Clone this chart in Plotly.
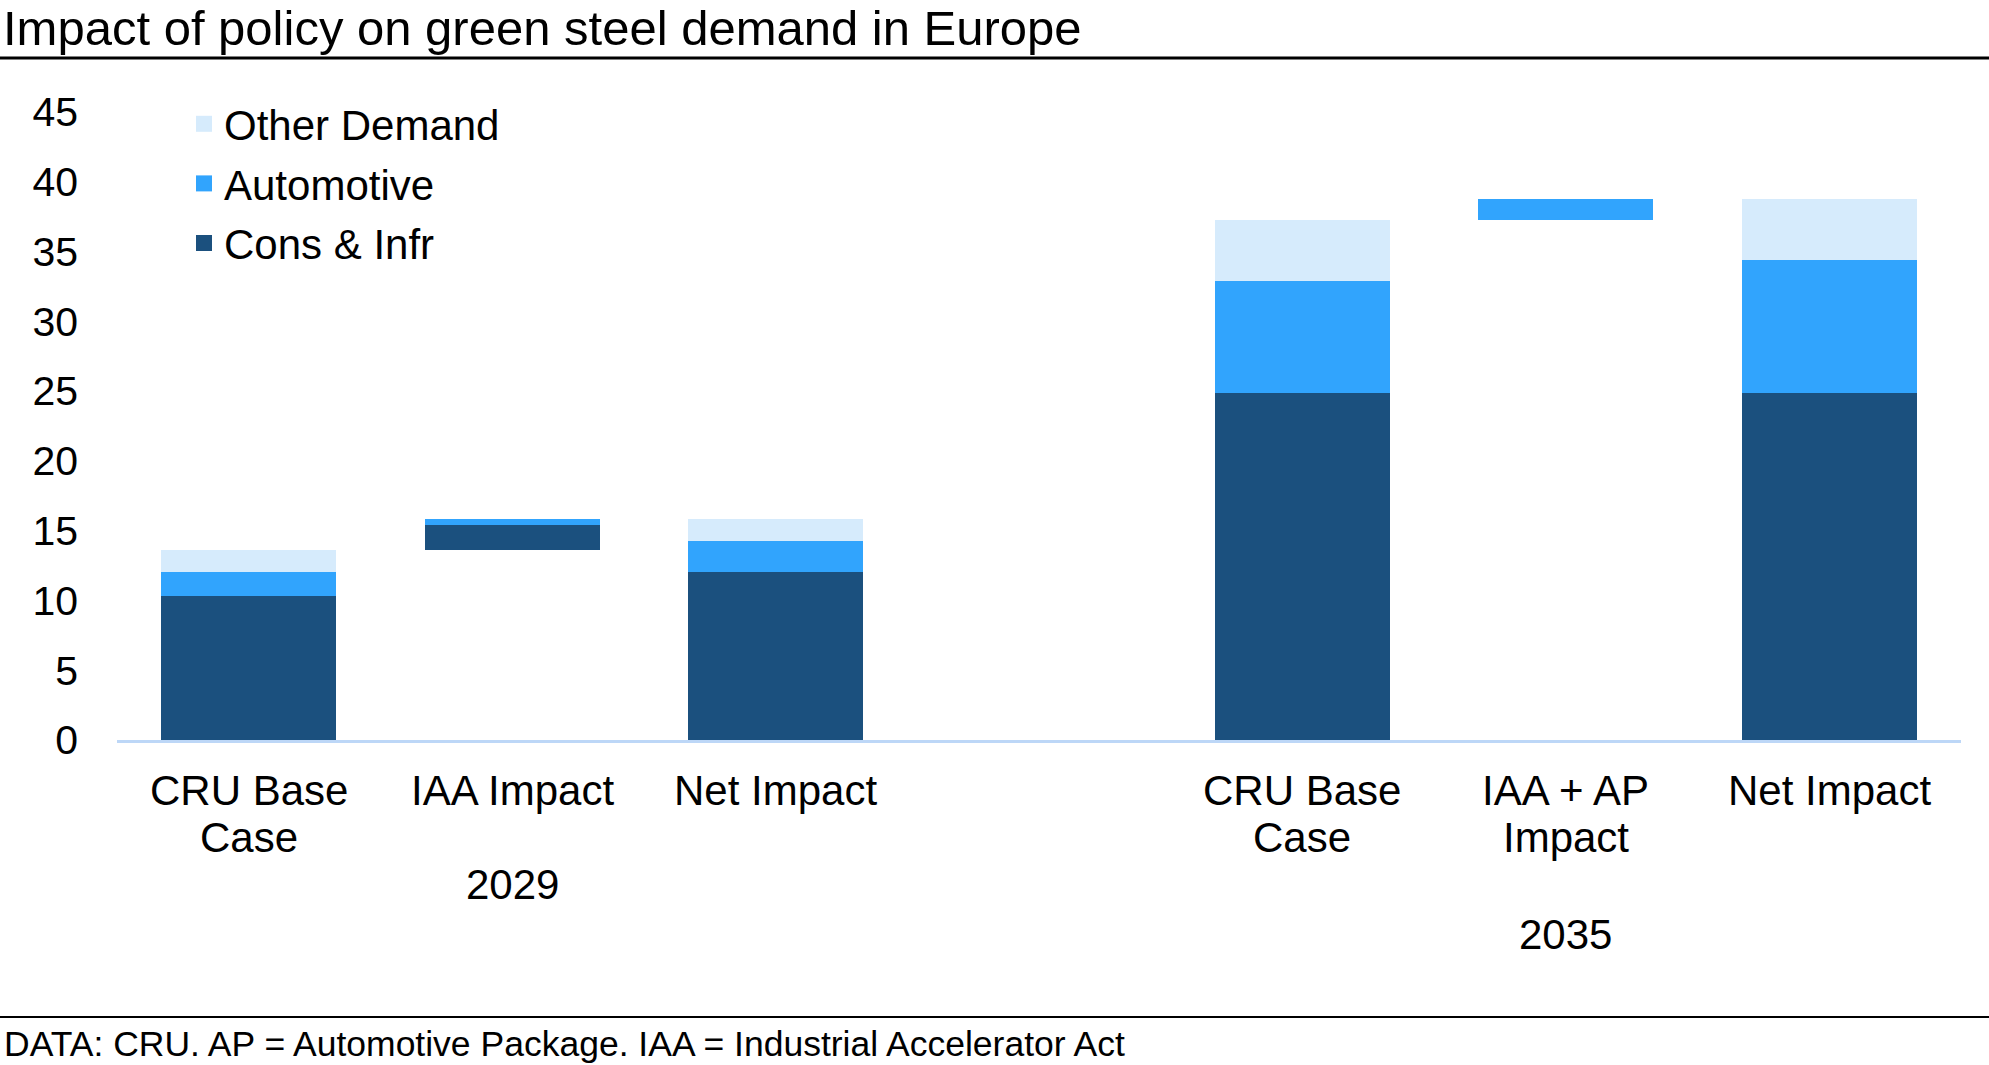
import plotly.graph_objects as go

# ---------------- data ----------------
categories = ["CRU Base<br>Case", "IAA Impact", "Net Impact",
              "CRU Base<br>Case", "IAA + AP<br>Impact", "Net Impact"]
groups = ["2029", "2029", "2029", "2035", "2035", "2035"]
group_labels = ["2029", "2035"]
base_offset = [0, 13.65, 0, 0, 37.25, 0]
cons_infr = [10.3, 1.75, 12.05, 24.9, 0, 24.9]
automotive = [1.75, 0.45, 2.2, 8.0, 1.5, 9.5]
other_demand = [1.6, 0, 1.6, 4.35, 0, 4.35]
y_ticks = [0, 5, 10, 15, 20, 25, 30, 35, 40, 45]

title_text = "Impact of policy on green steel demand in Europe"
source_text = "DATA: CRU. AP = Automotive Package. IAA = Industrial Accelerator Act"

# ---------------- layout helpers ----------------
FONT = "Liberation Sans, Arial, sans-serif"
C_CONS = "#1B507E"
C_AUTO = "#31A4FD"
C_OTHER = "#D6EBFC"

# slot positions: a blank slot between the two year groups
xpos = []
slot = 0
prev = None
for g in groups:
    if prev is not None and g != prev:
        slot += 1
    xpos.append(slot)
    slot += 1
    prev = g

W, H = 1989, 1065
ML, MR, MT, MB = 117, 28, 112, 325
ph = H - MT - MB

def ypaper(px):
    return (H - MB - px) / ph

def xpaper(px):
    return (px - ML) / (W - ML - MR)

fig = go.Figure()
bw = 0.665
fig.add_trace(go.Bar(x=xpos, y=base_offset, marker_color="rgba(0,0,0,0)",
                     marker_line_width=0, showlegend=False, hoverinfo="skip", width=bw))
series = [("Cons &amp; Infr", cons_infr, C_CONS, "c", 3),
          ("Automotive", automotive, C_AUTO, "a", 2),
          ("Other Demand", other_demand, C_OTHER, "o", 1)]
for name, vals, col, grp, rank in series:
    fig.add_trace(go.Bar(x=xpos, y=vals, name=name, marker_color=col,
                         marker_line_width=0, width=bw, legendgroup=grp,
                         legendrank=rank, showlegend=False))
# legend entries with larger square swatches
for name, vals, col, grp, rank in series:
    fig.add_trace(go.Scatter(x=[None], y=[None], mode="markers", name=name,
                             marker=dict(symbol="square", size=20, color=col),
                             legendgroup=grp, legendrank=rank, showlegend=True,
                             hoverinfo="skip"))

annotations = []
# category labels, one annotation per line
line_px = [790, 837]
for xp, cat in zip(xpos, categories):
    for i, line in enumerate(cat.split("<br>")):
        annotations.append(dict(x=xp, y=ypaper(line_px[i]), xref="x", yref="paper",
                                text=line, showarrow=False, yanchor="middle",
                                font=dict(size=42, color="black", family=FONT)))
# group (year) labels
year_px = {"2029": 884, "2035": 935}
for gl in group_labels:
    xs = [xp for xp, g in zip(xpos, groups) if g == gl]
    annotations.append(dict(x=sum(xs) / len(xs), y=ypaper(year_px[gl]), xref="x", yref="paper",
                            text=gl, showarrow=False, yanchor="middle",
                            font=dict(size=42, color="black", family=FONT)))
# source
annotations.append(dict(x=xpaper(2), y=ypaper(1044), xref="paper", yref="paper",
                        text=source_text, showarrow=False, xanchor="left", yanchor="middle",
                        font=dict(size=35.5, color="black", family=FONT)))

shapes = [
    dict(type="line", xref="paper", yref="paper", x0=xpaper(0), x1=xpaper(W),
         y0=ypaper(58), y1=ypaper(58), line=dict(color="black", width=3)),
    dict(type="line", xref="paper", yref="paper", x0=xpaper(0), x1=xpaper(W),
         y0=ypaper(1017), y1=ypaper(1017), line=dict(color="black", width=2)),
]

fig.update_layout(
    width=W, height=H,
    margin=dict(l=ML, r=MR, t=MT, b=MB, autoexpand=False),
    paper_bgcolor="white", plot_bgcolor="white",
    barmode="stack", bargap=0,
    font=dict(family=FONT, size=41, color="black"),
    title=dict(text=title_text, x=0.0015, xref="container", xanchor="left",
               y=1 - 28 / H, yref="container", yanchor="middle",
               font=dict(size=49, color="black", family=FONT)),
    xaxis=dict(range=[-0.5, max(xpos) + 0.5], showticklabels=False, showgrid=False,
               zeroline=False, showline=True, linecolor="#BDD7F7", linewidth=3,
               ticks="", fixedrange=True),
    yaxis=dict(range=[0, 45], tickvals=y_ticks, showgrid=False, zeroline=False,
               showline=False, ticks="", ticklabelstandoff=38,
               tickfont=dict(size=41, color="black", family=FONT)),
    legend=dict(x=xpaper(184), xanchor="left", y=ypaper(90), yanchor="top",
                traceorder="grouped", bgcolor="rgba(0,0,0,0)", itemsizing="trace",
                font=dict(size=42, color="black", family=FONT), tracegroupgap=2),
    annotations=annotations,
    shapes=shapes,
    showlegend=True,
)

fig.write_html("out.html")
